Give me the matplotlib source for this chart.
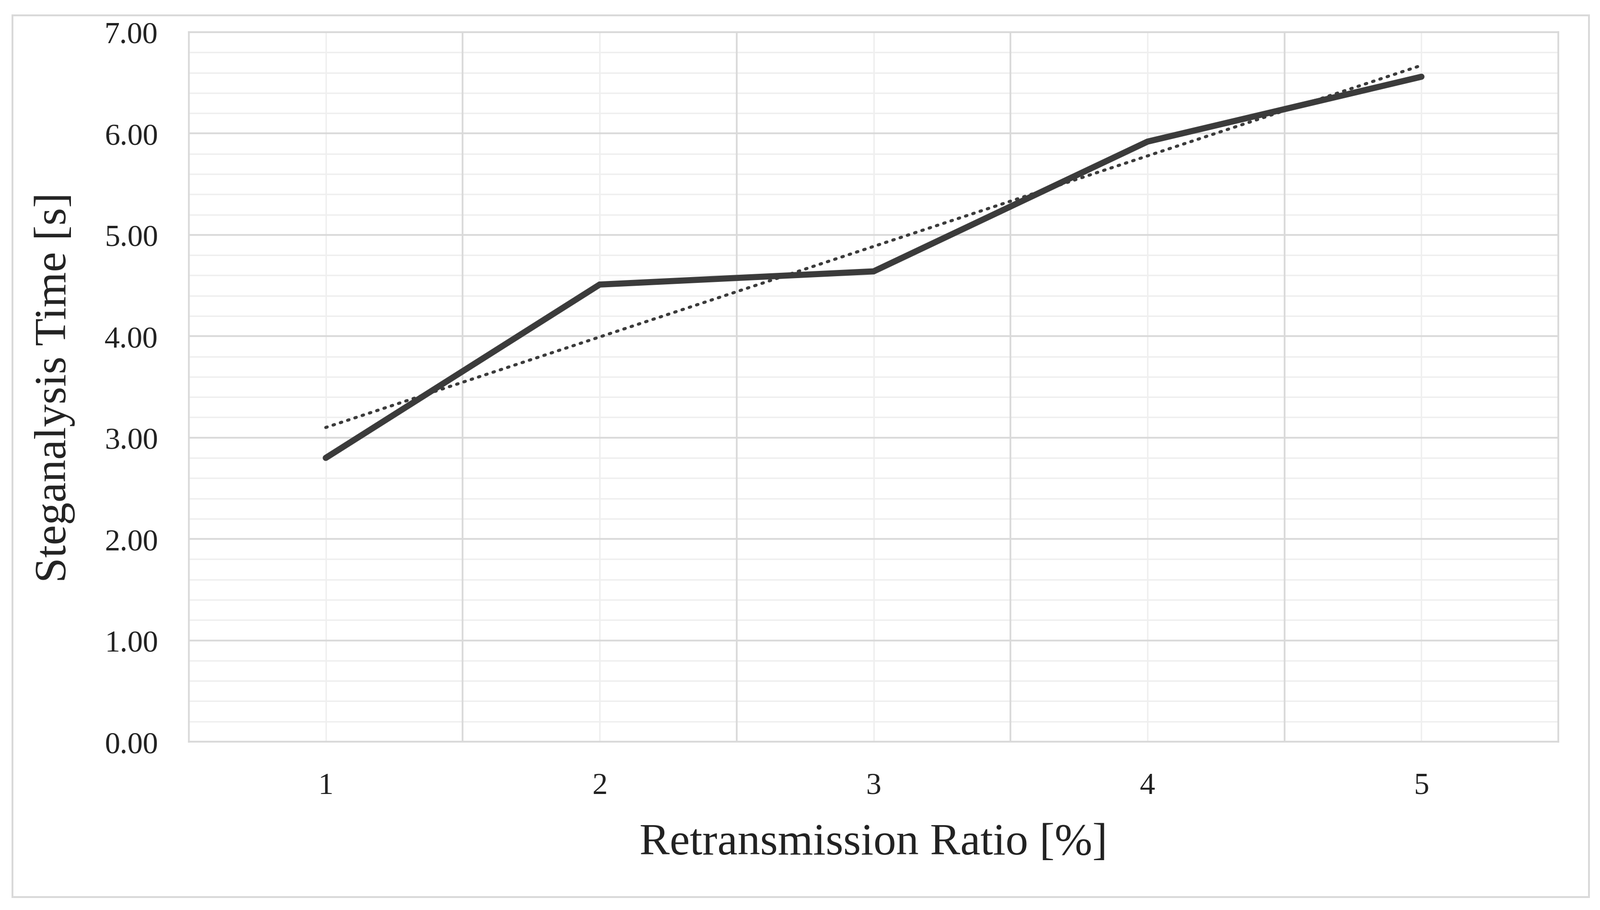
"""
Steganalysis time vs retransmission ratio, Excel-style line chart with linear trendline.
"""

import matplotlib

matplotlib.use("Agg")
import matplotlib.pyplot as plt
import numpy as np
from matplotlib.patches import Rectangle
from matplotlib.ticker import MultipleLocator

# data
ratio = [1, 2, 3, 4, 5]
steg_time = [2.80, 4.51, 4.64, 5.92, 6.56]
y_ticks = [0, 1, 2, 3, 4, 5, 6, 7]

LINE_COLOR = "#3b3b3b"
MAJOR_GRID = "#d9d9d9"
MINOR_GRID = "#efefef"


def main() -> None:
    plt.rcParams["font.family"] = ["Liberation Serif", "DejaVu Serif"]

    fig = plt.figure(figsize=(16.69, 9.495), dpi=200)
    ax = fig.add_axes([0.118, 0.1848, 0.856, 0.7794])

    x = np.array(ratio, dtype=float)
    y = np.array(steg_time)

    # Excel linear trendline
    slope, intercept = np.polyfit(x, y, 1)
    ax.plot(x, slope * x + intercept, color=LINE_COLOR, linewidth=2.3,
            linestyle=(0, (0.5, 2.0)), dash_capstyle="round", zorder=3)
    ax.plot(x, y, color=LINE_COLOR, linewidth=4.6, solid_joinstyle="miter",
            solid_capstyle="round", zorder=4)

    ax.set_xlim(0.5, 5.5)
    ax.set_ylim(0, 7)
    ax.set_xticks(ratio)
    ax.set_xticklabels([str(r) for r in ratio])
    ax.set_yticks(y_ticks)
    ax.set_yticklabels([f"{v:.2f}" for v in y_ticks])

    # gridlines: light lines at categories / 0.2 s, darker at category boundaries / whole seconds
    ax.yaxis.set_minor_locator(MultipleLocator(0.2))
    for xb in np.arange(1.5, 5.0, 1.0):
        ax.axvline(xb, color=MAJOR_GRID, linewidth=1.3, zorder=1)
    ax.grid(True, which="major", axis="x", color=MINOR_GRID, linewidth=1.1, zorder=0)
    ax.grid(True, which="major", axis="y", color=MAJOR_GRID, linewidth=1.3, zorder=1)
    ax.grid(True, which="minor", axis="y", color=MINOR_GRID, linewidth=1.1, zorder=0)
    ax.set_axisbelow(True)

    ax.tick_params(which="both", length=0)
    ax.tick_params(axis="y", pad=23, labelsize=23, labelcolor="#222222")
    ax.tick_params(axis="x", pad=23, labelsize=23, labelcolor="#222222")
    for spine in ax.spines.values():
        spine.set_color(MAJOR_GRID)
        spine.set_linewidth(1.3)

    ax.set_xlabel("Retransmission Ratio [%]", fontsize=34, color="#222222", labelpad=17)
    ax.set_ylabel("Steganalysis Time [s]", fontsize=34, color="#222222", labelpad=22)

    # outer chart border
    fig.patches.append(Rectangle((26 / 3338, 27 / 1899), 3289 / 3338, 1839 / 1899,
                                 transform=fig.transFigure, fill=False,
                                 edgecolor=MAJOR_GRID, linewidth=1.4))

    fig.savefig("out.png", dpi=200)
    plt.close(fig)


if __name__ == "__main__":
    main()
